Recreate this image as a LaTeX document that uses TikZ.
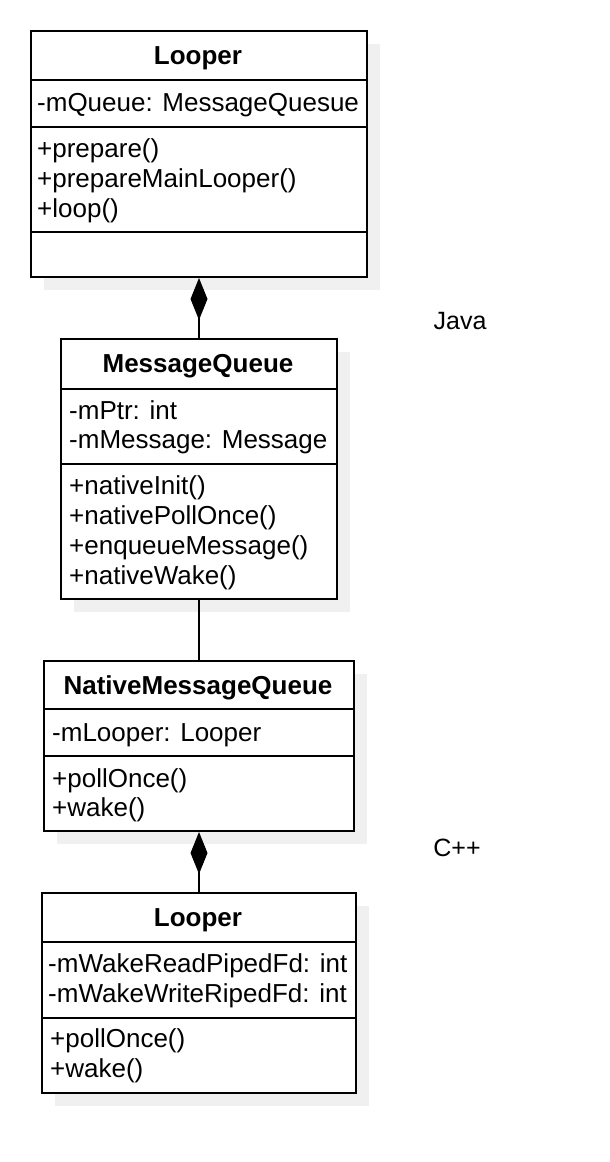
\documentclass[tikz,border=0pt]{standalone}
\usepackage{fontspec}
\setmainfont{Liberation Sans}
\usetikzlibrary{arrows.meta}
\begin{document}
\begin{tikzpicture}[x=1pt,y=-1pt,
  cls/.style={draw=black, line width=2pt, fill=white, inner sep=0pt, anchor=north west},
  shade/.style={fill=black!6, draw=none},
  sep/.style={line width=2pt},
  hdr/.style={anchor=base, inner sep=0pt, font=\fontsize{26}{30}\selectfont\bfseries},
  itm/.style={anchor=base west, inner sep=0pt, font=\fontsize{26}{30}\selectfont},
  lbl/.style={anchor=base, inner sep=0pt, font=\fontsize{25}{30}\selectfont},
  conn/.style={line width=2pt},
  comp/.style={line width=2pt, -{Diamond[length=42pt,width=17pt,fill=black]}}
]
\useasboundingbox (0,0) rectangle (610,1162);
% shadows
\fill[shade] (44,44) rectangle (380,290);
\fill[shade] (74,352) rectangle (350,612);
\fill[shade] (57,674) rectangle (367,844);
\fill[shade] (55,906) rectangle (369,1106);
% boxes
\node[cls, minimum width=336pt, minimum height=246pt] (b1) at (30,30) {};
\node[cls, minimum width=276pt, minimum height=260pt] (b2) at (60,338) {};
\node[cls, minimum width=310pt, minimum height=170pt] (b3) at (43,660) {};
\node[cls, minimum width=314pt, minimum height=200pt] (b4) at (41,892) {};
% dividers
\draw[sep] (30,80) -- (366,80);
\draw[sep] (30,127) -- (366,127);
\draw[sep] (30,232) -- (366,232);
\draw[sep] (60,389) -- (336,389);
\draw[sep] (60,464) -- (336,464);
\draw[sep] (43,709) -- (353,709);
\draw[sep] (43,756) -- (353,756);
\draw[sep] (41,942) -- (355,942);
\draw[sep] (41,1018) -- (355,1018);
% Looper (Java)
\node[hdr] (t1h) at (198,64) {Looper};
\node[itm] (t1a) at (37,111) {-mQueue: MessageQuesue};
\node[itm] (t1m1) at (37,157) {+prepare()};
\node[itm] (t1m2) at (37,187) {+prepareMainLooper()};
\node[itm] (t1m3) at (37,217) {+loop()};
% MessageQueue
\node[hdr] (t2h) at (198,372) {MessageQueue};
\node[itm] (t2a1) at (69,419) {-mPtr: int};
\node[itm] (t2a2) at (69,448) {-mMessage: Message};
\node[itm] (t2m1) at (69,494) {+nativeInit()};
\node[itm] (t2m2) at (69,524) {+nativePollOnce()};
\node[itm] (t2m3) at (69,554) {+enqueueMessage()};
\node[itm] (t2m4) at (69,584) {+nativeWake()};
% NativeMessageQueue
\node[hdr] (t3h) at (198,694) {NativeMessageQueue};
\node[itm] (t3a1) at (52,741) {-mLooper: Looper};
\node[itm] (t3m1) at (52,787) {+pollOnce()};
\node[itm] (t3m2) at (52,816) {+wake()};
% Looper (C++)
\node[hdr] (t4h) at (198,926) {Looper};
\node[itm] (t4a1) at (48,972) {-mWakeReadPipedFd: int};
\node[itm] (t4a2) at (48,1002) {-mWakeWriteRipedFd: int};
\node[itm] (t4m1) at (50,1047) {+pollOnce()};
\node[itm] (t4m2) at (50,1077) {+wake()};
% labels
\node[lbl] (java) at (460,329) {Java};
\node[lbl] (cpp) at (457,856) {C++};
% connectors
\draw[comp] (b2.north) -- (b1.south);
\draw[conn] (b2.south) -- (b3.north);
\draw[comp] (b4.north) -- (b3.south);
\end{tikzpicture}
\end{document}
